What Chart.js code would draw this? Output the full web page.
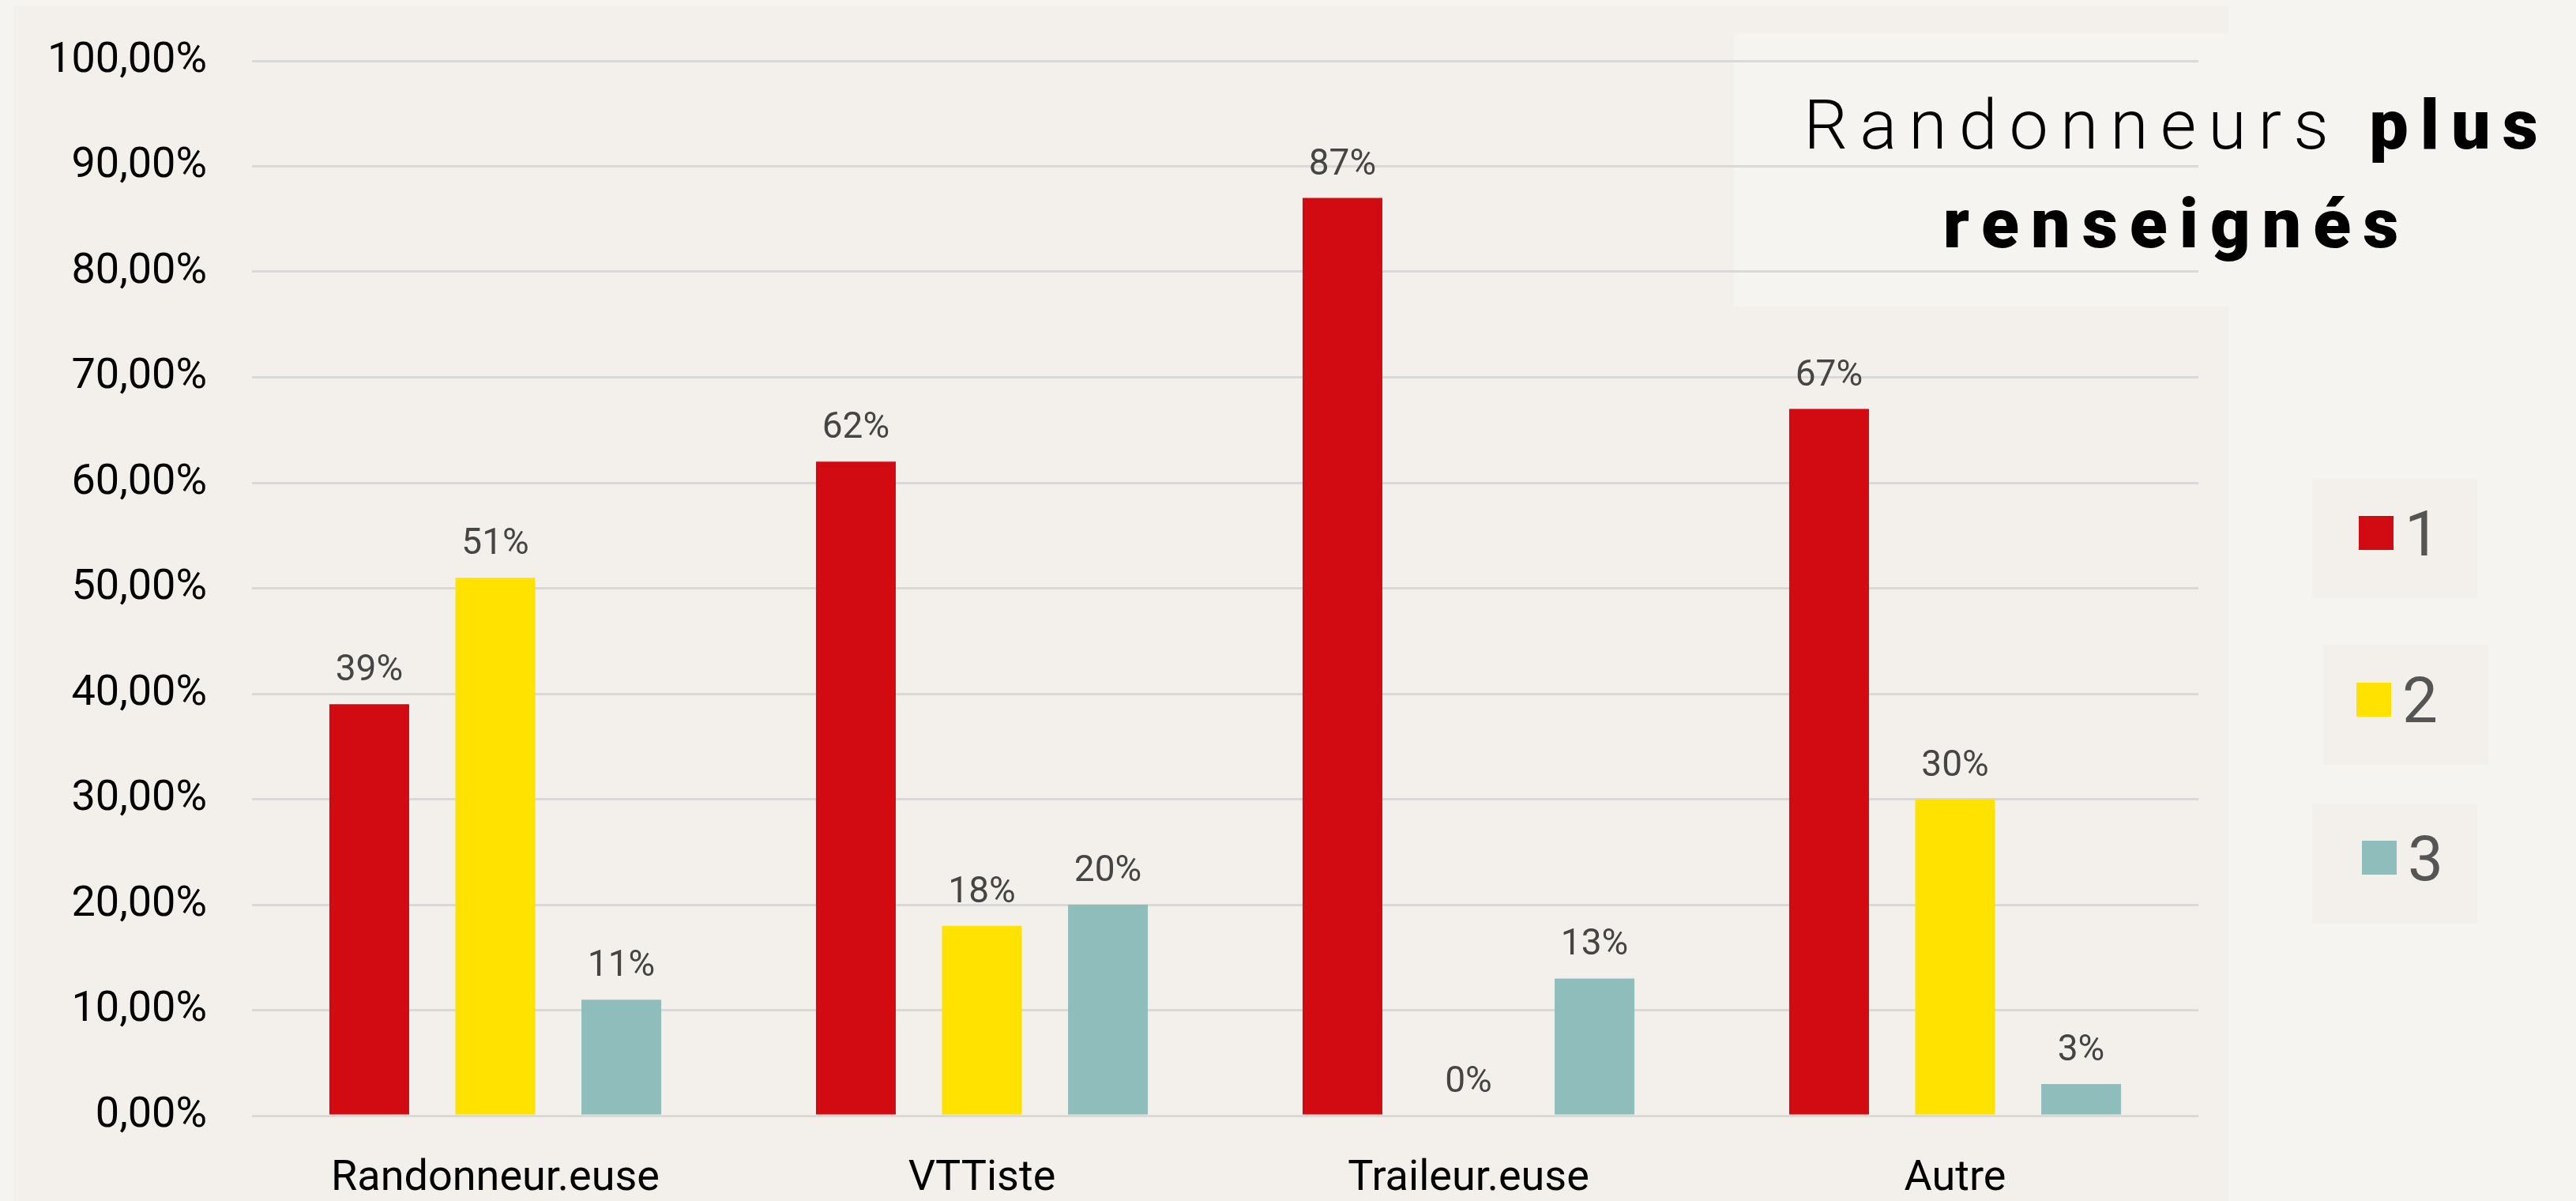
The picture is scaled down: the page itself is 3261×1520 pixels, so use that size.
<!DOCTYPE html>
<html>
<head>
<meta charset="utf-8">
<script src="https://cdn.jsdelivr.net/npm/chart.js@4"></script>
<style>
  html, body { margin: 0; padding: 0; background: #f5f4f0; }
  canvas { display: block; }
</style>
</head>
<body>
<canvas id="rando-chart" width="3261" height="1520"></canvas>
<script>
// Chart data
const categories = ['Randonneur.euse', 'VTTiste', 'Traileur.euse', 'Autre'];
const seriesLabels = ['1', '2', '3'];
const values1 = [39, 62, 87, 67];
const values2 = [51, 18, 0, 30];
const values3 = [11, 20, 13, 3];
const seriesColors = ['#d20a11', '#ffe200', '#8fbdbc'];
const titleLight = 'Randonneurs ';
const titleBold1 = 'plus';
const titleBold2 = 'renseignés';

const outerBg = '#f5f4f0';
const panelBg = '#f3efeb';

// draw text letter by letter with extra spacing
function spacedWidth(c, text, sp) {
    let w = 0;
    for (const ch of text) w += c.measureText(ch).width + sp;
    return w;
}
function drawSpaced(c, text, x, y, sp) {
    for (const ch of text) {
        c.fillText(ch, x, y);
        x += c.measureText(ch).width + sp;
    }
    return x;
}

const backgroundPlugin = {
    id: 'backgrounds',
    beforeDraw(chart) {
        const c = chart.ctx;
        c.save();
        c.fillStyle = outerBg;
        c.fillRect(0, 0, chart.width, chart.height);
        c.fillStyle = panelBg;
        c.fillRect(17, 8, 2804, 1512);
        // title box
        c.fillStyle = outerBg;
        c.fillRect(2195, 43, 1066, 345);
        c.restore();
    }
};

const valueLabelPlugin = {
    id: 'valueLabels',
    afterDatasetsDraw(chart) {
        const c = chart.ctx;
        c.save();
        c.font = '400 46px Roboto';
        c.fillStyle = '#454545';
        c.textAlign = 'center';
        c.textBaseline = 'alphabetic';
        chart.data.datasets.forEach((ds, i) => {
            chart.getDatasetMeta(i).data.forEach((bar, j) => {
                c.fillText(Math.round(ds.data[j]) + '%', bar.x, bar.y - 30);
            });
        });
        c.restore();
    }
};

const titlePlugin = {
    id: 'titleBox',
    afterDraw(chart) {
        const c = chart.ctx;
        const sp = 15;
        const cx = 2748;
        c.save();
        c.fillStyle = '#000';
        c.textBaseline = 'alphabetic';
        c.textAlign = 'left';
        // line 1
        c.font = '300 88px Roboto';
        let w1 = spacedWidth(c, titleLight, sp);
        c.font = '900 88px Roboto';
        let w2 = spacedWidth(c, titleBold1, sp) - sp;
        let x = cx - (w1 + w2) / 2;
        c.font = '300 88px Roboto';
        x = drawSpaced(c, titleLight, x, 188, sp);
        c.font = '900 88px Roboto';
        drawSpaced(c, titleBold1, x, 188, sp);
        // line 2
        let w3 = spacedWidth(c, titleBold2, sp) - sp;
        drawSpaced(c, titleBold2, cx - w3 / 2, 313, sp);
        c.restore();
    }
};

// Legend drawn as separate boxes on the right
const legendBoxes = [
    { x: 2927, y: 605, sx: 2986, sy: 653 },
    { x: 2941, y: 816, sx: 2983, sy: 864 },
    { x: 2927, y: 1017, sx: 2990, sy: 1064 }
];
const legendPlugin = {
    id: 'boxLegend',
    afterDraw(chart) {
        const c = chart.ctx;
        c.save();
        chart.data.datasets.forEach((ds, i) => {
            const b = legendBoxes[i];
            c.fillStyle = panelBg;
            c.fillRect(b.x, b.y, 209, 152);
            c.fillStyle = ds.backgroundColor;
            c.fillRect(b.sx, b.sy, 44, 43);
            c.fillStyle = '#555';
            c.font = '400 80px Roboto';
            c.textBaseline = 'alphabetic';
            c.textAlign = 'left';
            c.fillText(ds.label, b.sx + 58, b.sy + 50);
        });
        c.restore();
    }
};

const data = {
    labels: categories,
    datasets: [values1, values2, values3].map((vals, i) => ({
        label: seriesLabels[i],
        data: vals,
        backgroundColor: seriesColors[i],
        borderWidth: 0,
        categoryPercentage: 0.777,
        barPercentage: 0.633
    }))
};

var ctx = document.getElementById('rando-chart').getContext('2d');
var randoChart = new Chart(ctx, {
    type: 'bar',
    data,
    options: {
        responsive: false,
        animation: false,
        layout: { padding: { left: 0, right: 478, top: 77, bottom: 0 } },
        plugins: {
            legend: { display: false },
            title: { display: false },
            tooltip: { enabled: false }
        },
        scales: {
            x: {
                grid: { display: false },
                border: { display: false },
                ticks: {
                    color: '#000',
                    font: { family: 'Roboto', size: 54 },
                    padding: 40,
                    maxRotation: 0
                },
                afterFit(scale) { scale.height = 108; }
            },
            y: {
                min: 0,
                max: 100,
                border: { display: false },
                grid: { color: '#d9d9d9', lineWidth: 3, drawTicks: false },
                ticks: {
                    stepSize: 10,
                    color: '#000',
                    font: { family: 'Roboto', size: 54 },
                    padding: 57,
                    callback: (v) => v.toFixed(2).replace('.', ',') + '%'
                },
                afterFit(scale) {
                    scale.width = 319;
                    scale.paddingTop = 0;
                    scale.paddingBottom = 0;
                }
            }
        }
    },
    plugins: [backgroundPlugin, valueLabelPlugin, titlePlugin, legendPlugin]
});
</script>
</body>
</html>
